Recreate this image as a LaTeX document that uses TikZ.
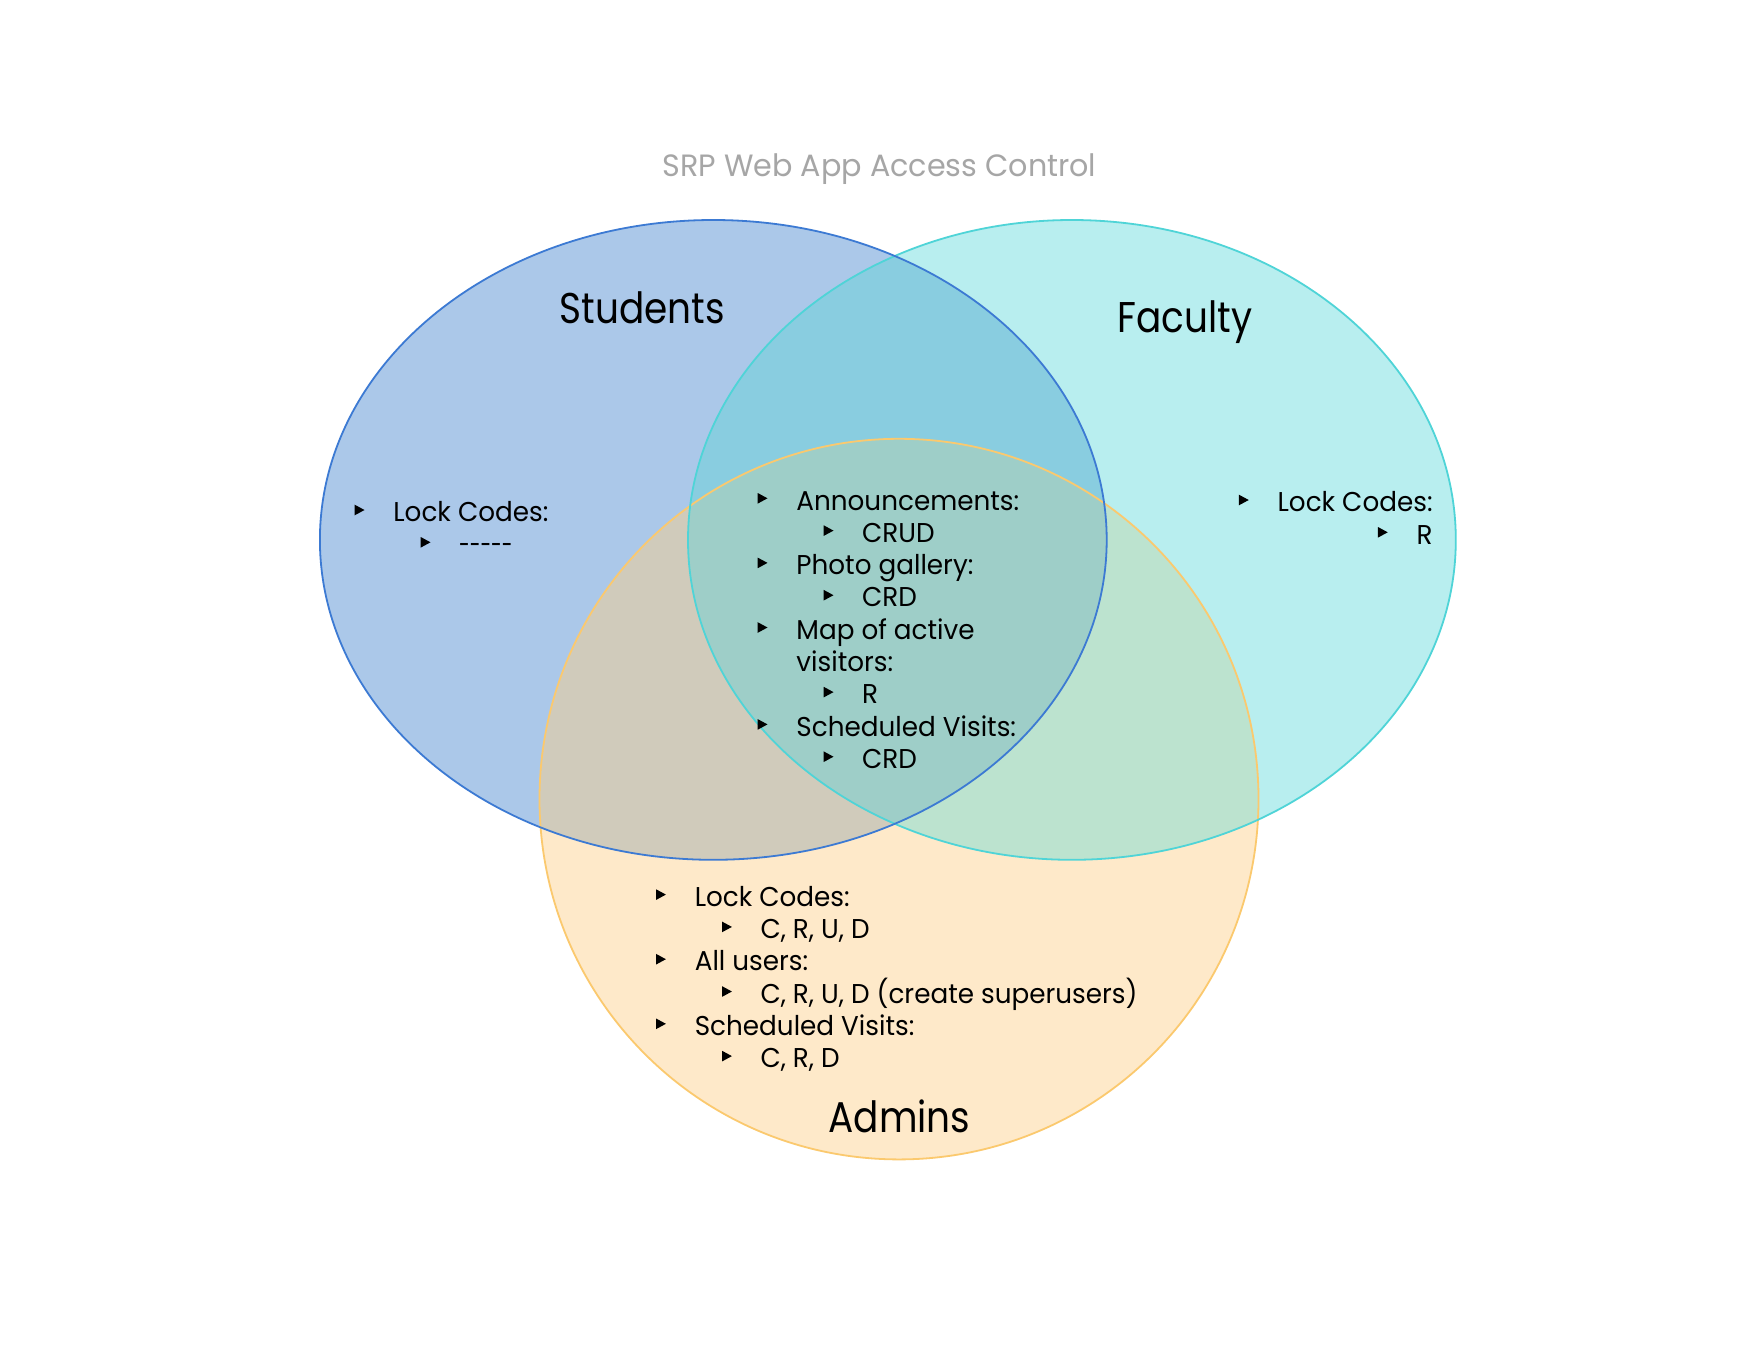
\documentclass[tikz,border=0pt]{standalone}
\usepackage{fontspec}
\setmainfont{Poppins}
\newfontfamily\headfont{Poppins}[FakeStretch=0.87]
\newfontfamily\listfont{Poppins}[FakeStretch=0.965]
\newfontfamily\titlefont{Poppins}[FakeStretch=0.98]
\definecolor{sFill}{HTML}{ABC8E9}
\definecolor{fFill}{HTML}{B8EEEF}
\definecolor{aFill}{HTML}{FEE9C9}
\definecolor{sfFill}{HTML}{89CDE0}
\definecolor{saFill}{HTML}{D0CBBB}
\definecolor{faFill}{HTML}{BCE3CF}
\definecolor{sfaFill}{HTML}{9ECEC8}
\definecolor{sLine}{HTML}{3C7AD3}
\definecolor{fLine}{HTML}{4FD4D7}
\definecolor{aLine}{HTML}{FBC96E}
\definecolor{titleGray}{HTML}{A6A6A6}
\newcommand{\bul}{\tikz[baseline=0pt]\fill[black] (0pt,3.2pt) -- (0pt,8.5pt) -- (4.9pt,5.85pt) -- cycle;}
\newcommand{\itA}[1]{\hbox{\makebox[19.35pt][l]{\bul}#1}}
\newcommand{\itB}[1]{\hbox{\hspace{33pt}\makebox[19.2pt][l]{\bul}#1}}
\newcommand{\itC}[1]{\hbox{\hspace{19.35pt}#1}}
\newcommand{\itR}[1]{\hbox to 150pt{\hfil\makebox[19.35pt][l]{\bul}#1}}
\newcommand{\blk}[1]{\vtop{\baselineskip=16.15pt\lineskiplimit=-20pt #1}}
\begin{document}
\begin{tikzpicture}[x=0.5pt,y=-0.5pt,
  listtext/.style={inner sep=0pt, font=\listfont\fontsize{13.6}{16.15}\selectfont, text=black},
  heading/.style={inner sep=0pt, anchor=base, font=\headfont\fontsize{21.5}{26}\selectfont, text=black},
  titletext/.style={inner sep=0pt, anchor=base, font=\titlefont\fontsize{15.4}{20}\selectfont, text=titleGray},
  setline/.style={line width=0.9pt}]
\fill[white] (0,0) rectangle (1760,1360);
\useasboundingbox (0,0) rectangle (1760,1360);
\def\Spath{(713.3,539.9) ellipse [x radius=393.4, y radius=319.9]}
\def\Fpath{(1071.9,539.9) ellipse [x radius=383.9, y radius=319.9]}
\def\Apath{(899,799.1) ellipse [x radius=359.5, y radius=360.3]}
% single-set fills
\fill[sFill] \Spath;
\fill[fFill] \Fpath;
\fill[aFill] \Apath;
% pairwise overlaps
\begin{scope}
  \clip \Spath;
  \fill[sfFill] \Fpath;
  \fill[saFill] \Apath;
\end{scope}
\begin{scope}
  \clip \Fpath;
  \fill[faFill] \Apath;
\end{scope}
\begin{scope}
  \clip \Spath;
  \clip \Fpath;
  \fill[sfaFill] \Apath;
\end{scope}
% outlines
\draw[setline, aLine] \Apath;
\draw[setline, fLine] \Fpath;
\draw[setline, sLine] \Spath;
% title and set names
\node[titletext] (title) at (879.5,176.4) {SRP Web App Access Control};
\node[heading] (students) at (642.5,323.3) {Students};
\node[heading] (faculty) at (1185,332) {Faculty};
\node[heading] (admins) at (899.6,1132.5) {Admins};
% lists
\node[listtext, anchor=base west] (studentlist) at (354.3,521.7)
  {\blk{\itA{Lock Codes:}\itB{\scalebox{0.74}[1]{-{}-{}-{}-{}-}}}};
\node[listtext, anchor=base west] (sharedlist) at (757.3,510)
  {\blk{\itA{Announcements:}\itB{CRUD}\itA{Photo gallery:}\itB{CRD}\itA{Map of active}\itC{visitors:}\itB{R}\itA{Scheduled Visits:}\itB{CRD}}};
\node[listtext, anchor=base east] (facultylist) at (1433,511.7)
  {\blk{\itR{Lock Codes:}\itR{R}}};
\node[listtext, anchor=base west] (adminlist) at (655.7,906.3)
  {\blk{\itA{Lock Codes:}\itB{C, R, U, D}\itA{All users:}\itB{C, R, U, D (create superusers)}\itA{Scheduled Visits:}\itB{C, R, D}}};
\end{tikzpicture}
\end{document}
